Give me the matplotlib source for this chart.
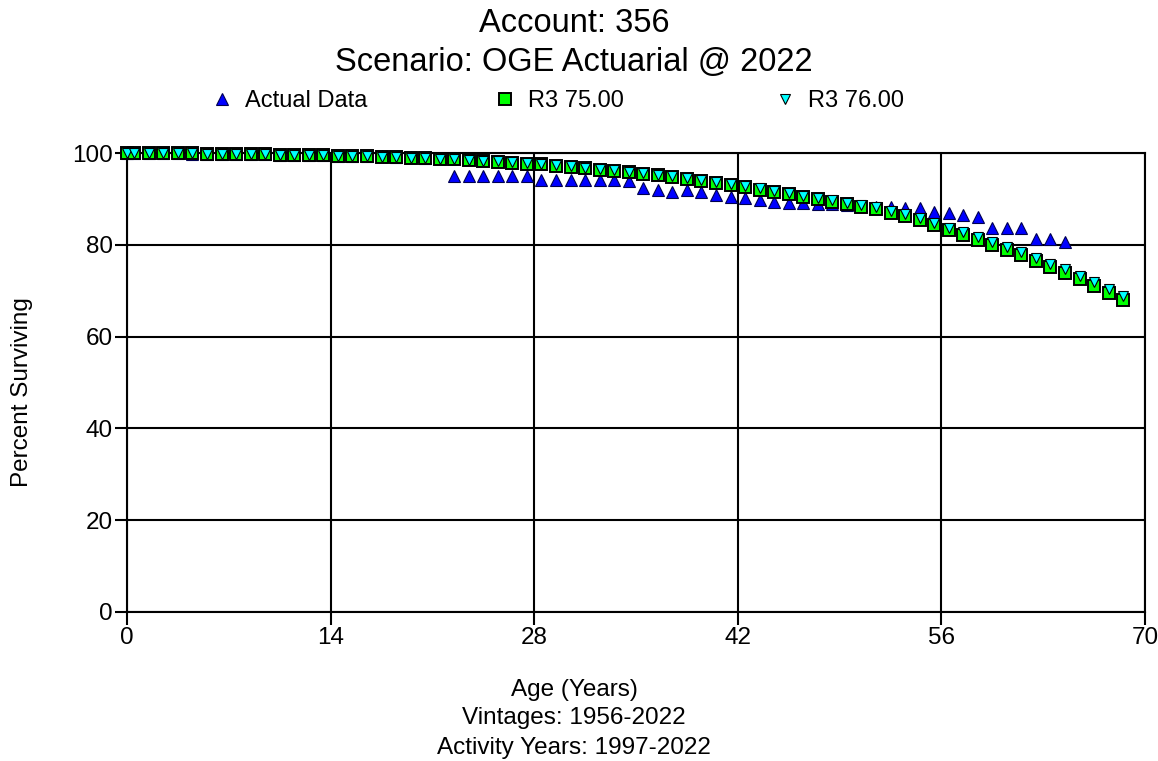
import matplotlib
matplotlib.use('Agg')
import matplotlib.pyplot as plt
from matplotlib.lines import Line2D

plt.rcParams['font.family'] = ['Liberation Sans', 'DejaVu Sans']

# ages (years) for the fitted curves
curve_ages = [0, 0.5, 1.5, 2.5, 3.5, 4.5, 5.5, 6.5, 7.5, 8.5, 9.5,
              10.5, 11.5, 12.5, 13.5, 14.5, 15.5, 16.5, 17.5, 18.5, 19.5,
              20.5, 21.5, 22.5, 23.5, 24.5, 25.5, 26.5, 27.5, 28.5, 29.5,
              30.5, 31.5, 32.5, 33.5, 34.5, 35.5, 36.5, 37.5, 38.5, 39.5,
              40.5, 41.5, 42.5, 43.5, 44.5, 45.5, 46.5, 47.5, 48.5, 49.5,
              50.5, 51.5, 52.5, 53.5, 54.5, 55.5, 56.5, 57.5, 58.5, 59.5,
              60.5, 61.5, 62.5, 63.5, 64.5, 65.5, 66.5, 67.5, 68.5]

r3_75 = [100.0, 100.0, 99.98, 99.95, 99.93, 99.9, 99.87, 99.83, 99.8, 99.75, 99.7,
         99.65, 99.6, 99.55, 99.5, 99.42, 99.35, 99.27, 99.2, 99.1, 99.0,
         98.9, 98.75, 98.6, 98.45, 98.3, 98.1, 97.9, 97.7, 97.5, 97.25,
         97.0, 96.7, 96.4, 96.1, 95.8, 95.5, 95.1, 94.7, 94.3, 93.9,
         93.5, 93.0, 92.5, 92.0, 91.5, 91.0, 90.4, 89.9, 89.3, 88.8,
         88.3, 87.7, 87.0, 86.2, 85.3, 84.3, 83.2, 82.2, 81.1, 80.0,
         78.9, 77.7, 76.4, 75.2, 73.9, 72.5, 71.1, 69.6, 68.0]

r3_76 = [100.0, 100.0, 99.98, 99.95, 99.93, 99.9, 99.87, 99.83, 99.8, 99.75, 99.7,
         99.65, 99.6, 99.55, 99.5, 99.42, 99.35, 99.27, 99.2, 99.1, 99.0,
         98.92, 98.78, 98.63, 98.5, 98.35, 98.16, 97.97, 97.78, 97.58, 97.35,
         97.1, 96.82, 96.53, 96.24, 95.95, 95.66, 95.28, 94.9, 94.5, 94.12,
         93.73, 93.25, 92.77, 92.28, 91.8, 91.32, 90.74, 90.26, 89.68, 89.2,
         88.72, 88.14, 87.46, 86.68, 85.8, 84.82, 83.74, 82.76, 81.7, 80.62,
         79.54, 78.36, 77.08, 75.9, 74.62, 73.24, 71.86, 70.38, 68.9]

# observed survivors
actual_ages = [0, 0.5, 1.5, 2.5, 3.5, 4.5, 5.5, 6.5, 7.5, 8.5, 9.5,
               10.5, 11.5, 12.5, 13.5, 14.5, 15.5, 16.5, 17.5, 18.5, 19.5,
               20.5, 21.5, 22.5, 23.5, 24.5, 25.5, 26.5, 27.5, 28.5, 29.5,
               30.5, 31.5, 32.5, 33.5, 34.5, 35.5, 36.5, 37.5, 38.5, 39.5,
               40.5, 41.5, 42.5, 43.5, 44.5, 45.5, 46.5, 47.5, 48.5, 49.5,
               50.5, 51.5, 52.5, 53.5, 54.5, 55.5, 56.5, 57.5, 58.5, 59.5,
               60.5, 61.5, 62.5, 63.5, 64.5]

actual = [100.0, 99.98, 99.95, 99.92, 99.9, 99.87, 99.85, 99.8, 99.78, 99.74, 99.7,
          99.66, 99.6, 99.55, 99.5, 99.45, 99.4, 99.3, 99.25, 99.2, 99.1,
          99.0, 98.9, 94.9, 94.9, 94.9, 94.9, 94.9, 94.9, 94.2, 94.2,
          94.2, 94.2, 94.2, 94.2, 93.9, 92.4, 91.9, 91.6, 91.9, 91.6,
          90.9, 90.5, 90.3, 89.8, 89.3, 89.2, 89.0, 88.9, 88.8, 88.6,
          88.5, 88.3, 88.3, 88.0, 88.0, 87.2, 86.9, 86.5, 86.1, 83.6,
          83.6, 83.6, 81.2, 81.2, 80.7]

x_ticks = [0, 14, 28, 42, 56, 70]
y_ticks = [0, 20, 40, 60, 80, 100]

title_lines = ['Account: 356', 'Scenario: OGE Actuarial @ 2022']
x_label_lines = ['Age (Years)', 'Vintages: 1956-2022', 'Activity Years: 1997-2022']

W, H = 1158, 761
fig = plt.figure(figsize=(W / 100, H / 100), dpi=100)
ax = fig.add_axes([127 / W, 1 - 612 / H, (1145 - 127) / W, (612 - 153) / H])

# marker styles
st_actual = dict(marker='^', ms=8.5, mfc='#0000ff', mec='#000050', mew=0.8, ls='none')
st_75 = dict(marker='s', ms=8.3, mfc='#00ff00', mec='black', mew=1.4, ls='none')
st_76 = dict(marker='v', ms=7.2, mfc='#00ffff', mec='black', mew=0.8, ls='none')

ax.plot(actual_ages, actual, clip_on=False, zorder=3, **st_actual)
ax.plot(curve_ages, r3_75, clip_on=False, zorder=4, **st_75)
ax.plot(curve_ages, r3_76, clip_on=False, zorder=5, **st_76)

ax.set_xlim(0, 70)
ax.set_ylim(0, 100)
ax.set_xticks(x_ticks)
ax.set_yticks(y_ticks)
ax.grid(True, color='black', lw=1.5)
ax.set_axisbelow(True)
for s in ax.spines.values():
    s.set_color('black')
    s.set_linewidth(1.5)
ax.tick_params(axis='x', direction='out', length=9, width=1.5, pad=2, labelsize=17.5)
ax.tick_params(axis='y', direction='out', length=9, width=1.5, pad=1, labelsize=17.5)

# titles and labels are centred on the figure, not on the plot
cx = 574 / W
fig.text(cx, 1 - 23 / H, title_lines[0], ha='center', va='center', fontsize=23.5)
fig.text(cx, 1 - 63 / H, title_lines[1], ha='center', va='center', fontsize=23.5)
for txt, yy in zip(x_label_lines, [690, 718, 748]):
    fig.text(cx, 1 - yy / H, txt, ha='center', va='center', fontsize=17.5)
fig.text(22 / W, 1 - 392 / H, 'Percent Surviving', rotation=90,
         ha='center', va='center', fontsize=17.5)

# legend entries laid out along the top
leg_items = [(st_actual, 'Actual Data', 222), (st_75, 'R3 75.00', 505), (st_76, 'R3 76.00', 785)]
for st, lab, px in leg_items:
    h = Line2D([], [], **st)
    fig.legend([h], [lab], loc='center left', bbox_to_anchor=((px - 8) / W, 1 - 101 / H),
               frameon=False, fontsize=17, handlelength=0.7, handletextpad=0.6,
               borderpad=0, borderaxespad=0)

fig.savefig('out.png', dpi=100)
